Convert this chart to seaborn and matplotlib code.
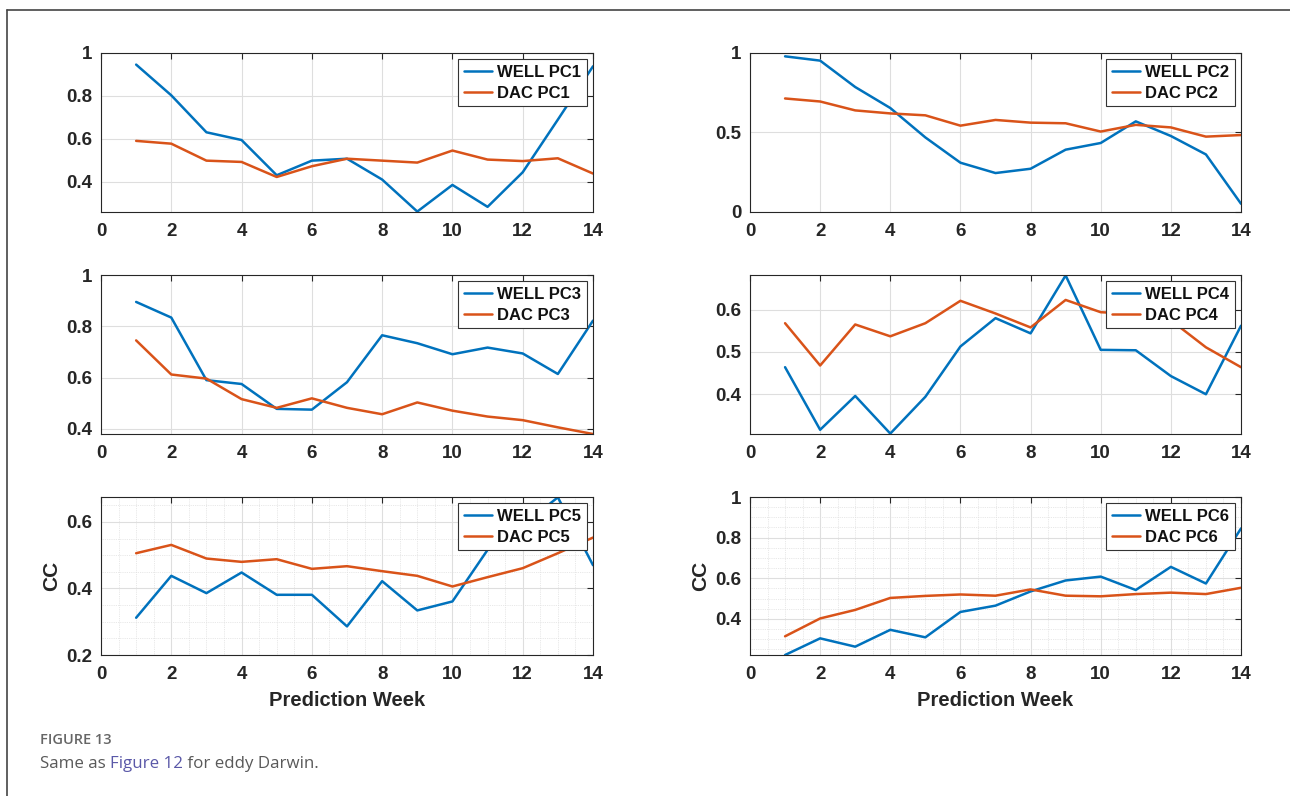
import numpy as np
import pandas as pd
import matplotlib
matplotlib.use("Agg")
import matplotlib.pyplot as plt
import seaborn as sns
from matplotlib.lines import Line2D
from matplotlib.ticker import FixedLocator, MultipleLocator, FuncFormatter

# Correlation coefficients (CC) of predicted PCs, eddy Darwin
weeks = list(range(1, 15))

well_pc1 = [0.946, 0.803, 0.631, 0.595, 0.431, 0.499, 0.508, 0.411, 0.262, 0.386, 0.284, 0.445, 0.690, 0.938]
dac_pc1 = [0.591, 0.578, 0.499, 0.493, 0.423, 0.473, 0.508, 0.499, 0.490, 0.546, 0.504, 0.497, 0.510, 0.439]

well_pc2 = [0.979, 0.952, 0.786, 0.654, 0.469, 0.310, 0.245, 0.272, 0.392, 0.434, 0.570, 0.478, 0.362, 0.052]
dac_pc2 = [0.714, 0.695, 0.639, 0.620, 0.608, 0.543, 0.579, 0.562, 0.558, 0.506, 0.548, 0.532, 0.474, 0.484]

well_pc3 = [0.895, 0.834, 0.590, 0.575, 0.478, 0.475, 0.582, 0.765, 0.734, 0.691, 0.717, 0.694, 0.614, 0.822]
dac_pc3 = [0.745, 0.612, 0.596, 0.516, 0.482, 0.519, 0.482, 0.457, 0.503, 0.471, 0.448, 0.434, 0.406, 0.380]

well_pc4 = [0.464, 0.316, 0.396, 0.307, 0.394, 0.513, 0.580, 0.544, 0.681, 0.505, 0.504, 0.443, 0.400, 0.562]
dac_pc4 = [0.568, 0.468, 0.565, 0.537, 0.568, 0.621, 0.591, 0.558, 0.623, 0.594, 0.590, 0.575, 0.511, 0.464]

well_pc5 = [0.312, 0.438, 0.386, 0.448, 0.381, 0.381, 0.286, 0.422, 0.334, 0.361, 0.516, 0.590, 0.674, 0.470]
dac_pc5 = [0.506, 0.531, 0.490, 0.480, 0.488, 0.459, 0.467, 0.452, 0.438, 0.406, 0.434, 0.461, 0.506, 0.553]

well_pc6 = [0.222, 0.304, 0.263, 0.346, 0.309, 0.434, 0.465, 0.535, 0.589, 0.608, 0.542, 0.656, 0.574, 0.845]
dac_pc6 = [0.314, 0.402, 0.444, 0.503, 0.513, 0.520, 0.514, 0.545, 0.514, 0.511, 0.522, 0.529, 0.522, 0.553]

x_ticks = [0, 2, 4, 6, 8, 10, 12, 14]
y_ticks = [
    [0.4, 0.6, 0.8, 1.0],
    [0.0, 0.5, 1.0],
    [0.4, 0.6, 0.8, 1.0],
    [0.4, 0.5, 0.6],
    [0.2, 0.4, 0.6],
    [0.4, 0.6, 0.8, 1.0],
]
y_limits = [(0.26, 1.0), (0.0, 1.0), (0.38, 1.0), (0.306, 0.682), (0.2, 0.675), (0.222, 1.0)]

panels = [
    (well_pc1, dac_pc1, "PC1"),
    (well_pc2, dac_pc2, "PC2"),
    (well_pc3, dac_pc3, "PC3"),
    (well_pc4, dac_pc4, "PC4"),
    (well_pc5, dac_pc5, "PC5"),
    (well_pc6, dac_pc6, "PC6"),
]

sns.set_style("white")
plt.rcParams["font.family"] = ["Liberation Sans", "DejaVu Sans"]

BLUE = "#0072BD"
ORANGE = "#D95319"
AX_COLOR = "#262626"

W, H = 1290, 796
fig = plt.figure(figsize=(W / 100, H / 100), dpi=100)
fig.patch.set_facecolor("white")


def px_rect(left, top, right, bottom):
    return [left / W, 1 - bottom / H, (right - left) / W, (bottom - top) / H]


rects = [
    px_rect(101, 53, 593, 212),
    px_rect(750, 53, 1241, 212),
    px_rect(101, 275, 593, 434),
    px_rect(750, 275, 1241, 434),
    px_rect(101, 497, 593, 655),
    px_rect(750, 497, 1241, 655),
]

fmt = FuncFormatter(lambda v, p: f"{v:g}")

for i, ((well, dac, pc), rect) in enumerate(zip(panels, rects)):
    ax = fig.add_axes(rect)
    df = pd.DataFrame({"week": weeks * 2,
                       "cc": well + dac,
                       "series": [f"WELL {pc}"] * len(weeks) + [f"DAC {pc}"] * len(weeks)})
    sns.lineplot(data=df, x="week", y="cc", hue="series",
                 palette={f"WELL {pc}": BLUE, f"DAC {pc}": ORANGE},
                 linewidth=1.8, ax=ax)
    ax.set_xlim(0, 14)
    ax.set_ylim(*y_limits[i])
    ax.xaxis.set_major_locator(FixedLocator(x_ticks))
    ax.yaxis.set_major_locator(FixedLocator(y_ticks[i]))
    ax.yaxis.set_major_formatter(fmt)
    ax.xaxis.set_major_formatter(fmt)

    ax.grid(True, which="major", color="#dedede", linewidth=0.8)
    if i >= 4:
        ax.xaxis.set_minor_locator(MultipleLocator(0.5))
        ax.yaxis.set_minor_locator(MultipleLocator(0.05))
        ax.grid(True, which="minor", color="#e0e0e0", linewidth=0.6, linestyle=(0, (1, 1.2)))
        ax.tick_params(which="minor", length=0)
    ax.set_axisbelow(True)

    ax.tick_params(which="major", direction="in", length=4.5, width=0.8, color=AX_COLOR,
                   top=True, right=True, labelsize=13.5, labelcolor=AX_COLOR)
    ax.tick_params(axis="x", which="major", pad=8)
    ax.tick_params(axis="y", which="major", pad=6)
    for lab in ax.get_xticklabels() + ax.get_yticklabels():
        lab.set_fontweight("bold")
    for sp in ax.spines.values():
        sp.set_color(AX_COLOR)
        sp.set_linewidth(0.8)
        sp.set_visible(True)

    if i >= 4:
        ax.set_xlabel("Prediction Week", fontsize=14.5, fontweight="bold", color=AX_COLOR, labelpad=6)
        ax.set_ylabel("CC", fontsize=15, fontweight="bold", color=AX_COLOR, labelpad=4)
    else:
        ax.set_xlabel("")
        ax.set_ylabel("")

    leg = ax.legend(loc="upper right", fontsize=12, frameon=True, fancybox=False,
                    framealpha=1, edgecolor="#333333", borderpad=0.35,
                    labelspacing=0.35, handlelength=1.7, handletextpad=0.3,
                    borderaxespad=0.35)
    leg.get_frame().set_linewidth(0.8)
    for t in leg.get_texts():
        t.set_fontweight("bold")
        t.set_color("#111111")

# Frame lines around the figure panel
fig.add_artist(Line2D([7 / W, 1], [1 - 10 / H, 1 - 10 / H], color="#444444", linewidth=1.2))
fig.add_artist(Line2D([7 / W, 7 / W], [0, 1 - 10 / H], color="#444444", linewidth=1.2))

# Caption
fig.text(40 / W, 1 - 740 / H, "FIGURE 13", fontsize=10.5, color="#666666",
         family=["Open Sans", "DejaVu Sans"], fontweight="semibold", va="center")

cap_y = 1 - 764 / H
cap_kw = dict(fontsize=12.2, family=["Open Sans", "DejaVu Sans"], va="center")
t1 = fig.text(40 / W, cap_y, "Same as ", color="#595959", **cap_kw)
fig.canvas.draw()
r = fig.canvas.get_renderer()
x1 = t1.get_window_extent(r).x1 / W
t2 = fig.text(x1, cap_y, "Figure 12", color="#5a58a8", **cap_kw)
fig.canvas.draw()
x2 = t2.get_window_extent(r).x1 / W
fig.text(x2, cap_y, " for eddy Darwin.", color="#595959", **cap_kw)

fig.savefig("out.png", dpi=100, facecolor="white")
